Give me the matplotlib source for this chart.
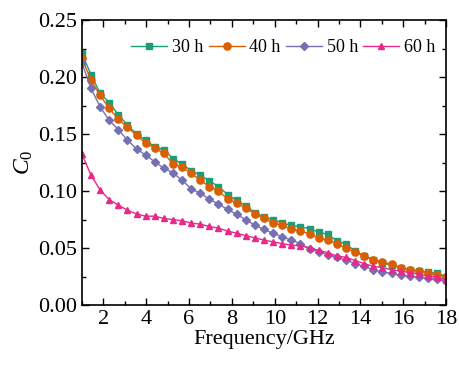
import numpy as np
import matplotlib
matplotlib.use("Agg")
import matplotlib.pyplot as plt
from matplotlib.ticker import MultipleLocator

plt.rcParams['font.family'] = ['Liberation Serif', 'DejaVu Serif']
plt.rcParams['mathtext.fontset'] = 'custom'
plt.rcParams['mathtext.rm'] = 'Liberation Serif'
plt.rcParams['mathtext.it'] = 'Liberation Serif:italic'

freq = np.linspace(1, 18, 41)

c0_30h = [0.221, 0.202, 0.186, 0.1775, 0.167, 0.158, 0.150, 0.1445, 0.139, 0.136,
          0.1286, 0.1237, 0.118, 0.114, 0.109, 0.104, 0.097, 0.092, 0.087, 0.081,
          0.077, 0.075, 0.072, 0.070, 0.0687, 0.067, 0.064, 0.062, 0.0565, 0.0535,
          0.0474, 0.043, 0.0395, 0.037, 0.035, 0.0327, 0.031, 0.030, 0.029, 0.0278, 0.025]
c0_40h = [0.2164, 0.1974, 0.184, 0.1725, 0.163, 0.156, 0.149, 0.142, 0.138, 0.133,
          0.124, 0.121, 0.1155, 0.1096, 0.104, 0.100, 0.093, 0.0895, 0.085, 0.080,
          0.076, 0.072, 0.070, 0.0667, 0.065, 0.0626, 0.059, 0.057, 0.054, 0.0497,
          0.0468, 0.043, 0.040, 0.038, 0.0357, 0.033, 0.031, 0.030, 0.0285, 0.0263, 0.025]
c0_50h = [0.2125, 0.190, 0.174, 0.162, 0.154, 0.1447, 0.137, 0.1316, 0.1257, 0.120,
          0.116, 0.1096, 0.102, 0.098, 0.093, 0.0886, 0.084, 0.0795, 0.075, 0.070,
          0.0664, 0.0629, 0.060, 0.057, 0.054, 0.049, 0.047, 0.044, 0.042, 0.0395,
          0.0365, 0.034, 0.031, 0.029, 0.0278, 0.026, 0.0255, 0.0245, 0.0235, 0.0225, 0.021]
c0_60h = [0.1325, 0.114, 0.101, 0.0926, 0.0877, 0.0833, 0.080, 0.078, 0.078, 0.076,
          0.075, 0.074, 0.072, 0.071, 0.069, 0.0675, 0.065, 0.063, 0.061, 0.059,
          0.057, 0.0555, 0.054, 0.0526, 0.052, 0.0505, 0.048, 0.046, 0.043, 0.042,
          0.039, 0.0365, 0.034, 0.033, 0.031, 0.030, 0.0285, 0.027, 0.0255, 0.0245, 0.022]

labels = ['30 h', '40 h', '50 h', '60 h']
series = [c0_30h, c0_40h, c0_50h, c0_60h]
colors = ['#1b9e77', '#d95f02', '#7570b3', '#e7298a']
markers = ['s', 'o', 'D', '^']
msizes = [4.5, 5.2, 4.2, 5.0]

fig = plt.figure(figsize=(4.6, 3.65), dpi=100)
ax = fig.add_axes([0.178, 0.164, 0.792, 0.781])

for y, lab, c, m, ms in zip(series, labels, colors, markers, msizes):
    ax.plot(freq, y, color=c, marker=m, markersize=ms, markeredgecolor=c,
            linewidth=1.0, label=lab)

ax.set_xlim(1, 18)
ax.set_ylim(0, 0.25)
ax.xaxis.set_minor_locator(MultipleLocator(1))
ax.yaxis.set_minor_locator(MultipleLocator(0.025))
ax.set_xticks(np.arange(2, 19, 2))
ax.set_yticks(np.arange(0, 0.26, 0.05))
ax.set_yticklabels(['%.2f' % v for v in np.arange(0, 0.26, 0.05)])
ax.tick_params(which='both', direction='in', top=True, right=True, labelsize=16, width=1.0)
ax.tick_params(which='major', length=5)
ax.tick_params(which='minor', length=3)
for s in ax.spines.values():
    s.set_linewidth(1.2)

ax.set_xlabel('Frequency/GHz', fontsize=16, labelpad=1)
ax.set_ylabel(r'$C_0$', fontsize=17, labelpad=2)

ax.legend(loc='upper right', ncol=4, frameon=False, fontsize=13,
          handlelength=2.0, handletextpad=0.25, columnspacing=0.3,
          borderaxespad=0.2, bbox_to_anchor=(1.0, 0.97))

fig.savefig('out.png', dpi=100)
